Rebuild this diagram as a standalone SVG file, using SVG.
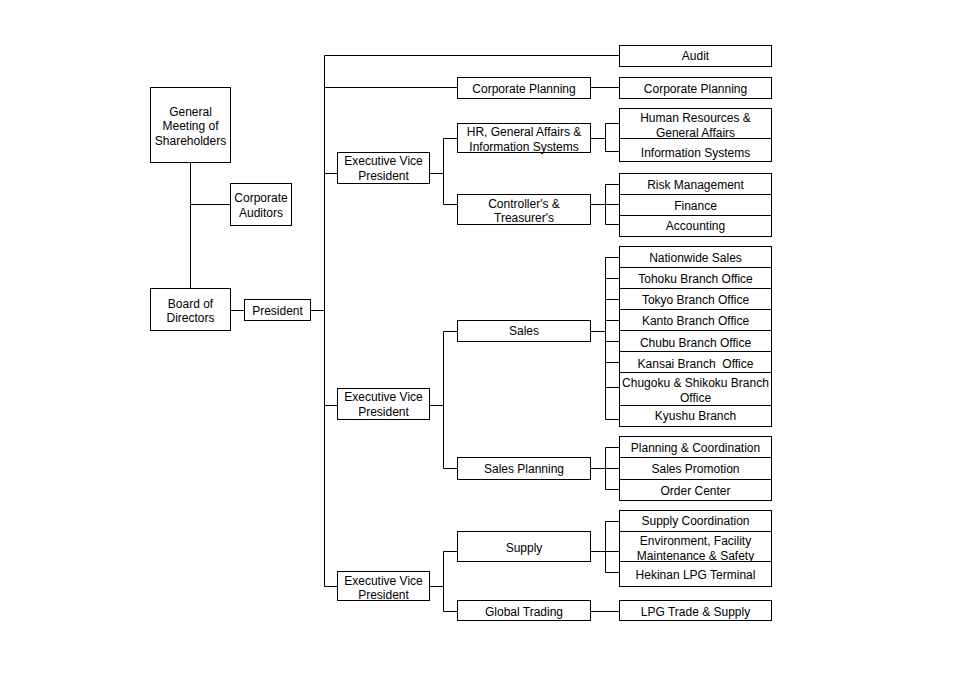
<svg xmlns="http://www.w3.org/2000/svg" width="960" height="680" viewBox="0 0 960 680">
<style>
rect.b{fill:#fff;stroke:#000;stroke-width:1}
text{font-family:"Liberation Sans",Arial,sans-serif;font-size:12px;fill:#000;text-anchor:middle}
#connectors path{fill:none;stroke:#000;stroke-width:1}
</style>
<rect width="960" height="680" fill="#fff"/>
<g id="connectors">
<path d="M190.5 162.5V288.5M190.5 204.5H230.5M230.5 310.5H244.5M310.5 310.5H324.5"/>
<path d="M324.5 55.5V586.5M324.5 55.5H619.5M324.5 87.5H457.5M590.5 87.5H619.5"/>
<path d="M324.5 173.5H337.5M429.5 173.5H443.5M443.5 138.5V204.5M443.5 138.5H457.5M443.5 204.5H457.5"/>
<path d="M590.5 138.5H605.5M605.5 123.5V151.5M605.5 123.5H619.5M605.5 151.5H619.5"/>
<path d="M590.5 204.5H605.5M605.5 184.5V224.5M605.5 184.5H619.5M605.5 204.5H619.5M605.5 224.5H619.5"/>
<path d="M590.5 331.5H605.5M605.5 257.5V419.5M605.5 257.5H619.5M605.5 278.5H619.5M605.5 299.5H619.5M605.5 320.5H619.5M605.5 341.5H619.5M605.5 362.5H619.5M605.5 387.5H619.5M605.5 419.5H619.5"/>
<path d="M324.5 405.5H337.5M429.5 405.5H443.5M443.5 331.5V468.5M443.5 331.5H457.5M443.5 468.5H457.5"/>
<path d="M590.5 468.5H605.5M605.5 447.5V489.5M605.5 447.5H619.5M605.5 468.5H619.5M605.5 489.5H619.5"/>
<path d="M590.5 551.5H605.5M605.5 521.5V572.5M605.5 521.5H619.5M605.5 551.5H619.5M605.5 572.5H619.5"/>
<path d="M324.5 586.5H337.5M429.5 586.5H443.5M443.5 551.5V611.5M443.5 551.5H457.5M443.5 611.5H457.5M590.5 611.5H619.5"/>
</g>
<g id="gm"><rect class="b" x="150.5" y="87.5" width="80" height="75"/><text x="190.5" y="115.5">General</text><text x="190.5" y="130">Meeting of</text><text x="190.5" y="144.5">Shareholders</text></g>
<g id="ca"><rect class="b" x="230.5" y="183.5" width="61" height="42"/><text x="261" y="202">Corporate</text><text x="261" y="217">Auditors</text></g>
<g id="bod"><rect class="b" x="150.5" y="288.5" width="80" height="42"/><text x="190.5" y="307.5">Board of</text><text x="190.5" y="322">Directors</text></g>
<g id="president"><rect class="b" x="244.5" y="299.5" width="66" height="21"/><text x="277.5" y="314.5">President</text></g>
<g id="audit"><rect class="b" x="619.5" y="45.5" width="152" height="21"/><text x="695.5" y="60.3">Audit</text></g>
<g id="cp-mid"><rect class="b" x="457.5" y="77.5" width="133" height="21"/><text x="524" y="92.6">Corporate Planning</text></g>
<g id="cp-right"><rect class="b" x="619.5" y="77.5" width="152" height="21"/><text x="695.5" y="92.6">Corporate Planning</text></g>
<g id="evp1"><rect class="b" x="337.5" y="152.5" width="92" height="31"/><text x="383.5" y="165">Executive Vice</text><text x="383.5" y="180">President</text></g>
<g id="hr"><rect class="b" x="457.5" y="123.5" width="133" height="29"/><text x="524" y="135.5">HR, General Affairs &amp;</text><text x="524" y="150.5">Information Systems</text></g>
<g id="ctrl"><rect class="b" x="457.5" y="194.5" width="133" height="30"/><text x="524" y="208">Controller's &amp;</text><text x="524" y="222">Treasurer's</text></g>
<g id="hrga"><rect class="b" x="619.5" y="108.5" width="152" height="30"/><text x="695.5" y="122">Human Resources &amp;</text><text x="695.5" y="137">General Affairs</text></g>
<g id="infosys"><rect class="b" x="619.5" y="138.5" width="152" height="23"/><text x="695.5" y="156.5">Information Systems</text></g>
<g id="risk"><rect class="b" x="619.5" y="173.5" width="152" height="21"/><text x="695.5" y="189.3">Risk Management</text></g>
<g id="finance"><rect class="b" x="619.5" y="194.5" width="152" height="21"/><text x="695.5" y="210">Finance</text></g>
<g id="accounting"><rect class="b" x="619.5" y="215.5" width="152" height="21"/><text x="695.5" y="230.3">Accounting</text></g>
<g id="nationwide"><rect class="b" x="619.5" y="246.5" width="152" height="21"/><text x="695.5" y="261.6">Nationwide Sales</text></g>
<g id="tohoku"><rect class="b" x="619.5" y="267.5" width="152" height="21"/><text x="695.5" y="282.6">Tohoku Branch Office</text></g>
<g id="tokyo"><rect class="b" x="619.5" y="288.5" width="152" height="21"/><text x="695.5" y="304.3">Tokyo Branch Office</text></g>
<g id="kanto"><rect class="b" x="619.5" y="309.5" width="152" height="21"/><text x="695.5" y="324.6">Kanto Branch Office</text></g>
<g id="chubu"><rect class="b" x="619.5" y="330.5" width="152" height="21"/><text x="695.5" y="346.6">Chubu Branch Office</text></g>
<g id="kansai"><rect class="b" x="619.5" y="351.5" width="152" height="21"/><text x="695.5" y="367.6" xml:space="preserve">Kansai Branch  Office</text></g>
<g id="chugoku"><rect class="b" x="619.5" y="372.5" width="152" height="33"/><text x="695.5" y="387">Chugoku &amp; Shikoku Branch</text><text x="695.5" y="401.5">Office</text></g>
<g id="kyushu"><rect class="b" x="619.5" y="405.5" width="152" height="21"/><text x="695.5" y="420.3">Kyushu Branch</text></g>
<g id="sales"><rect class="b" x="457.5" y="320.5" width="133" height="21"/><text x="524" y="335.3">Sales</text></g>
<g id="evp2"><rect class="b" x="337.5" y="388.5" width="92" height="31"/><text x="383.5" y="400.5">Executive Vice</text><text x="383.5" y="416">President</text></g>
<g id="salesplanning"><rect class="b" x="457.5" y="457.5" width="133" height="22"/><text x="524" y="472.6">Sales Planning</text></g>
<g id="pc"><rect class="b" x="619.5" y="436.5" width="152" height="21"/><text x="695.5" y="451.6">Planning &amp; Coordination</text></g>
<g id="promo"><rect class="b" x="619.5" y="457.5" width="152" height="22"/><text x="695.5" y="472.6">Sales Promotion</text></g>
<g id="order"><rect class="b" x="619.5" y="479.5" width="152" height="21"/><text x="695.5" y="495">Order Center</text></g>
<g id="supplycoord"><rect class="b" x="619.5" y="510.5" width="152" height="21"/><text x="695.5" y="525.3">Supply Coordination</text></g>
<g id="env"><rect class="b" x="619.5" y="531.5" width="152" height="30"/><text x="695.5" y="544.5">Environment, Facility</text><text x="695.5" y="560">Maintenance &amp; Safety</text></g>
<g id="hekinan"><rect class="b" x="619.5" y="561.5" width="152" height="25"/><text x="695.5" y="578.6">Hekinan LPG Terminal</text></g>
<g id="supply"><rect class="b" x="457.5" y="531.5" width="133" height="30"/><text x="524" y="551.6">Supply</text></g>
<g id="evp3"><rect class="b" x="337.5" y="571.5" width="92" height="29"/><text x="383.5" y="584.5">Executive Vice</text><text x="383.5" y="598.5">President</text></g>
<g id="global"><rect class="b" x="457.5" y="600.5" width="133" height="20"/><text x="524" y="615.5">Global Trading</text></g>
<g id="lpg"><rect class="b" x="619.5" y="600.5" width="152" height="20"/><text x="695.5" y="615.5">LPG Trade &amp; Supply</text></g>
</svg>
